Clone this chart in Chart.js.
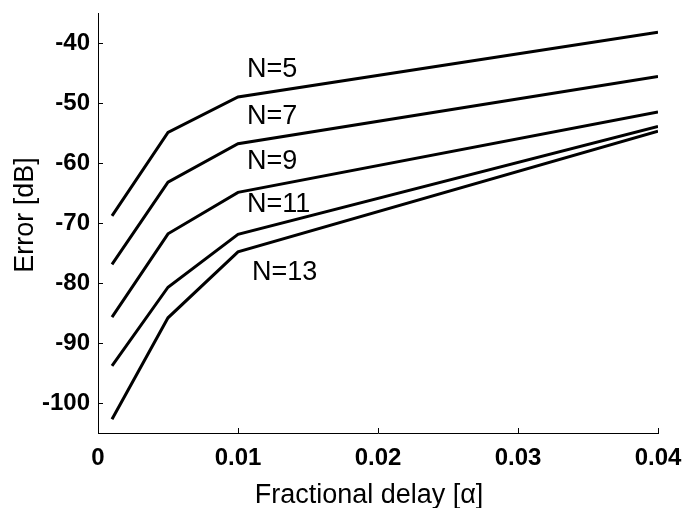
<!DOCTYPE html>
<html>
<head>
<meta charset="utf-8">
<script src="https://cdn.jsdelivr.net/npm/chart.js@4.4.1/dist/chart.umd.min.js"></script>
<style>
html,body{margin:0;padding:0;background:#fff;}
#wrap{width:684px;height:508px;position:relative;}
</style>
</head>
<body>
<div id="wrap"><canvas id="c"></canvas></div>
<script>
// ---- data ----
const alphaValues = [0.001, 0.005, 0.01, 0.04];
const seriesNames = ['N=5', 'N=7', 'N=9', 'N=11', 'N=13'];
const errN5  = [-68.8, -54.9, -49.0, -38.2];
const errN7  = [-76.9, -63.2, -56.8, -45.6];
const errN9  = [-85.7, -71.8, -64.9, -51.5];
const errN11 = [-93.8, -80.7, -71.9, -53.9];
const errN13 = [-102.7, -85.8, -74.8, -54.7];
const xTickValues = [0, 0.01, 0.02, 0.03, 0.04];
const xTickLabels = ['0', '0.01', '0.02', '0.03', '0.04'];
const yTickValues = [-100, -90, -80, -70, -60, -50, -40];
const yTickLabels = ['-100', '-90', '-80', '-70', '-60', '-50', '-40'];
const xTitle = 'Fractional delay [\u03B1]';
const yTitle = 'Error [dB]';
// label anchors (in data units)
const labelX = [0.01064, 0.01064, 0.01064, 0.01064, 0.0110];
const labelY = [-44.5, -52.3, -59.8, -66.9, -78.2];

const allSeries = [errN5, errN7, errN9, errN11, errN13];
const FONT = "Arial, 'Liberation Sans', sans-serif";

const datasets = allSeries.map((vals, i) => ({
  label: seriesNames[i],
  data: alphaValues.map((a, j) => ({x: a, y: vals[j]})),
  borderColor: '#000',
  borderWidth: 3,
  pointRadius: 0,
  fill: false,
  tension: 0,
  borderCapStyle: 'butt',
  borderJoinStyle: 'miter'
}));

const decor = {
  id: 'decor',
  afterDatasetsDraw(chart) {
    const ctx = chart.ctx;
    const xs = chart.scales.x, ys = chart.scales.y;
    const a = chart.chartArea;
    ctx.save();
    // inward tick marks
    ctx.strokeStyle = '#000';
    ctx.lineWidth = 1;
    ctx.beginPath();
    yTickValues.forEach(v => {
      const py = Math.round(ys.getPixelForValue(v)) + 0.5;
      ctx.moveTo(a.left, py); ctx.lineTo(a.left + 5, py);
    });
    xTickValues.forEach(v => {
      const px = Math.round(xs.getPixelForValue(v)) + 0.5;
      ctx.moveTo(px, a.bottom); ctx.lineTo(px, a.bottom - 5);
    });
    ctx.stroke();
    // series labels
    ctx.fillStyle = '#000';
    ctx.font = '27px ' + FONT;
    ctx.textAlign = 'left';
    ctx.textBaseline = 'middle';
    seriesNames.forEach((n, i) => {
      ctx.fillText(n, xs.getPixelForValue(labelX[i]), ys.getPixelForValue(labelY[i]));
    });
    // axis titles
    ctx.font = '27px ' + FONT;
    ctx.textAlign = 'center';
    ctx.textBaseline = 'alphabetic';
    ctx.fillText(xTitle, 369, 503);
    ctx.translate(33, 215);
    ctx.rotate(-Math.PI / 2);
    ctx.fillText(yTitle, 0, 0);
    ctx.restore();
  }
};

new Chart(document.getElementById('c'), {
  type: 'line',
  data: { datasets },
  options: {
    responsive: true,
    maintainAspectRatio: false,
    animation: false,
    layout: { padding: { left: 0, right: 26, top: 13, bottom: 0 } },
    plugins: { legend: { display: false }, tooltip: { enabled: false } },
    scales: {
      x: {
        type: 'linear',
        min: 0, max: 0.04,
        afterBuildTicks: s => { s.ticks = xTickValues.map(v => ({value: v})); },
        afterFit: s => { s.height = 75; s.paddingLeft = 0; s.paddingRight = 0; },
        grid: { display: true, drawOnChartArea: false, drawTicks: false },
        border: { display: true, color: '#000', width: 1 },
        ticks: {
          color: '#000',
          padding: 11,
          maxRotation: 0,
          autoSkip: false,
          font: { family: FONT, size: 24, weight: 'bold' },
          callback: (v, i) => xTickLabels[i]
        }
      },
      y: {
        type: 'linear',
        min: -105, max: -35,
        afterBuildTicks: s => { s.ticks = yTickValues.map(v => ({value: v})); },
        afterFit: s => { s.width = 98; s.paddingTop = 0; s.paddingBottom = 0; },
        grid: { display: true, drawOnChartArea: false, drawTicks: false },
        border: { display: true, color: '#000', width: 1 },
        ticks: {
          color: '#000',
          padding: 8,
          autoSkip: false,
          font: { family: FONT, size: 24, weight: 'bold' },
          callback: (v, i) => yTickLabels[i]
        }
      }
    }
  },
  plugins: [decor]
});
</script>
</body>
</html>
